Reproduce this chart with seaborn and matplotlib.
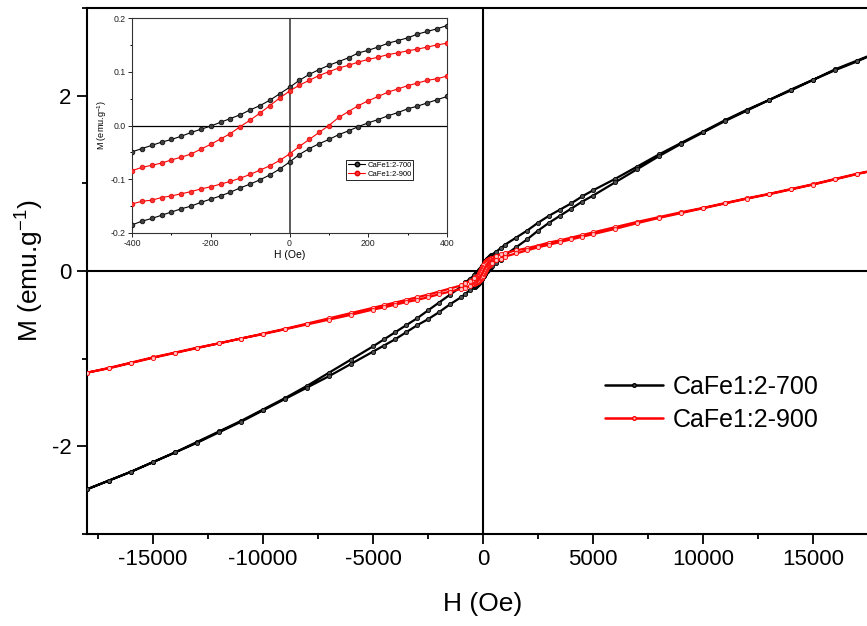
import matplotlib
matplotlib.use("Agg")
import matplotlib.pyplot as plt
from matplotlib.lines import Line2D
from matplotlib.ticker import MultipleLocator
import seaborn as sns
import pandas as pd

# ---------------- data ----------------
H_desc = [18000, 17000, 16000, 15000, 14000, 13000, 12000, 11000, 10000, 9000,
          8000, 7000, 6000, 5000, 4500, 4000, 3500, 3000, 2500, 2000,
          1500, 1000, 800, 600,
          400, 375, 350, 325, 300, 275, 250, 225, 200, 175, 150, 125, 100, 75, 50, 25,
          0, -25, -50, -75, -100, -125, -150, -175, -200, -225, -250, -275, -300,
          -325, -350, -375, -400,
          -600, -800, -1000, -1500, -2000, -2500, -3000, -3500, -4000, -4500,
          -5000, -6000, -7000, -8000, -9000, -10000, -11000, -12000, -13000,
          -14000, -15000, -16000, -17000, -18000]
H_asc = H_desc[::-1]

M700_desc = [2.50, 2.40, 2.30, 2.18, 2.07, 1.95, 1.84, 1.72, 1.59, 1.46,
             1.33, 1.19, 1.05, 0.92, 0.85, 0.77, 0.70, 0.63, 0.55, 0.46,
             0.38, 0.30, 0.26, 0.22,
             0.186, 0.180, 0.175, 0.170, 0.163, 0.158, 0.153, 0.146, 0.140, 0.135,
             0.126, 0.119, 0.112, 0.104, 0.095, 0.084, 0.071, 0.059, 0.047, 0.037,
             0.029, 0.020, 0.013, 0.006, -0.001, -0.007, -0.013, -0.020, -0.026,
             -0.031, -0.037, -0.043, -0.049,
             -0.09, -0.13, -0.18, -0.27, -0.36, -0.45, -0.54, -0.62, -0.70, -0.78,
             -0.86, -1.01, -1.16, -1.31, -1.45, -1.58, -1.71, -1.83, -1.95,
             -2.07, -2.18, -2.29, -2.39, -2.49]
M700_asc = [-2.49, -2.39, -2.29, -2.18, -2.07, -1.96, -1.84, -1.72, -1.59, -1.46,
            -1.33, -1.20, -1.06, -0.92, -0.85, -0.78, -0.70, -0.62, -0.55, -0.47,
            -0.38, -0.30, -0.26, -0.22,
            -0.185, -0.178, -0.173, -0.167, -0.161, -0.155, -0.150, -0.143, -0.137,
            -0.131, -0.124, -0.116, -0.109, -0.101, -0.092, -0.081, -0.068, -0.054,
            -0.043, -0.034, -0.026, -0.017, -0.010, -0.002, 0.005, 0.011, 0.018,
            0.024, 0.031, 0.036, 0.042, 0.048, 0.054,
            0.09, 0.13, 0.18, 0.27, 0.36, 0.46, 0.55, 0.63, 0.71, 0.79,
            0.86, 1.01, 1.16, 1.31, 1.45, 1.58, 1.71, 1.83, 1.95,
            2.06, 2.18, 2.29, 2.39, 2.50]

M900_desc = [1.16, 1.11, 1.05, 0.99, 0.935, 0.88, 0.83, 0.775, 0.72, 0.67,
             0.615, 0.56, 0.50, 0.44, 0.41, 0.38, 0.35, 0.325, 0.29, 0.26,
             0.235, 0.205, 0.19, 0.175,
             0.153, 0.150, 0.146, 0.142, 0.139, 0.135, 0.132, 0.127, 0.123, 0.118,
             0.112, 0.107, 0.100, 0.093, 0.084, 0.075, 0.064, 0.051, 0.037, 0.023,
             0.010, -0.002, -0.015, -0.025, -0.035, -0.044, -0.053, -0.059, -0.064,
             -0.070, -0.074, -0.078, -0.084,
             -0.115, -0.14, -0.165, -0.20, -0.235, -0.27, -0.30, -0.33, -0.36, -0.39,
             -0.42, -0.48, -0.54, -0.60, -0.66, -0.715, -0.77, -0.825, -0.875,
             -0.93, -0.985, -1.045, -1.105, -1.16]
M900_asc = [-1.16, -1.11, -1.05, -0.99, -0.935, -0.88, -0.825, -0.77, -0.72, -0.665,
            -0.61, -0.555, -0.50, -0.44, -0.415, -0.385, -0.355, -0.33, -0.30, -0.265,
            -0.235, -0.205, -0.19, -0.17,
            -0.146, -0.141, -0.139, -0.134, -0.131, -0.127, -0.123, -0.118, -0.114,
            -0.109, -0.104, -0.098, -0.091, -0.083, -0.075, -0.065, -0.053, -0.039,
            -0.026, -0.013, 0.000, 0.015, 0.026, 0.037, 0.046, 0.054, 0.062,
            0.068, 0.074, 0.079, 0.084, 0.087, 0.092,
            0.12, 0.14, 0.165, 0.20, 0.235, 0.27, 0.30, 0.33, 0.36, 0.39,
            0.42, 0.48, 0.545, 0.605, 0.66, 0.715, 0.77, 0.825, 0.875,
            0.93, 0.985, 1.045, 1.105, 1.16]

labels = ["CaFe1:2-700", "CaFe1:2-900"]
main_xticks = [-15000, -10000, -5000, 0, 5000, 10000, 15000]
main_yticks = [-2, 0, 2]
inset_xticks = [-400, -200, 0, 200, 400]
inset_yticks = [-0.2, -0.1, 0.0, 0.1, 0.2]

# ---------------- style ----------------
sns.set_style("ticks")
plt.rcParams["font.family"] = ["Liberation Sans", "DejaVu Sans"]
plt.rcParams["mathtext.default"] = "regular"
plt.rcParams["axes.unicode_minus"] = False
for k in ["text.color", "axes.labelcolor", "xtick.color", "ytick.color",
          "axes.edgecolor"]:
    plt.rcParams[k] = "black"

df700 = pd.DataFrame({"H": H_desc + H_asc, "M": M700_desc + M700_asc})
df900 = pd.DataFrame({"H": H_desc + H_asc, "M": M900_desc + M900_asc})

fig = plt.figure(figsize=(8.67, 6.26), dpi=100)
W, Hh = 867, 626
ax = fig.add_axes([87 / W, (Hh - 534) / Hh, 792 / W, 526 / Hh])

ax.axhline(0, color="black", lw=1.5, zorder=1)
ax.axvline(0, color="black", lw=1.5, zorder=1)

sns.lineplot(data=df700, x="H", y="M", sort=False, estimator=None, ax=ax,
             color="black", lw=1.6, marker="o", ms=3.0, mfc="#505050",
             mec="black", mew=0.6, zorder=3)
sns.lineplot(data=df900, x="H", y="M", sort=False, estimator=None, ax=ax,
             color="#ff0000", lw=1.6, marker="o", ms=3.0, mfc="#ffc0c0",
             mec="#ff0000", mew=0.6, zorder=4)

ax.set_xlim(-18000, 18000)
ax.set_ylim(-3, 3)
ax.set_xticks(main_xticks)
ax.set_xticklabels([str(v) for v in main_xticks])
ax.set_yticks(main_yticks)
ax.set_yticklabels([str(v) for v in main_yticks])
ax.xaxis.set_minor_locator(MultipleLocator(2500))
ax.yaxis.set_minor_locator(MultipleLocator(1))
ax.tick_params(which="major", direction="out", length=7, width=1.3,
               labelsize=16, pad=4, colors="black")
ax.tick_params(which="minor", direction="out", length=3.3, width=1.3,
               colors="black")
for s in ax.spines.values():
    s.set_linewidth(1.5)
    s.set_color("black")
ax.set_xlabel("H (Oe)", fontsize=19, labelpad=16, color="black")
ax.set_ylabel("M (emu.g$^{-1}$)", fontsize=19, labelpad=4, color="black")

handles = [Line2D([], [], color="black", lw=1.8, marker="o", ms=2.6,
                  mfc="#505050", mec="black"),
           Line2D([], [], color="#ff0000", lw=1.8, marker="o", ms=2.6,
                  mfc="#ffc0c0", mec="#ff0000")]
fig.legend(handles, labels, loc="upper left",
           bbox_to_anchor=(605 / W, 1 - 375 / Hh), frameon=False,
           fontsize=18, handlelength=2.3, handletextpad=0.4,
           labelspacing=0.35, borderpad=0, borderaxespad=0)

# ---------------- inset ----------------
axi = fig.add_axes([132 / W, (Hh - 233) / Hh, 315 / W, 215 / Hh])
axi.set_facecolor("white")
axi.axhline(0, color="black", lw=0.9, zorder=1)
axi.axvline(0, color="#303030", lw=1.1, zorder=1)
sns.lineplot(data=df700, x="H", y="M", sort=False, estimator=None, ax=axi,
             color="black", lw=0.8, marker="o", ms=3.4, mfc="#404040",
             mec="black", mew=0.5, zorder=3)
sns.lineplot(data=df900, x="H", y="M", sort=False, estimator=None, ax=axi,
             color="#ff0000", lw=0.8, marker="o", ms=3.4, mfc="#ff3030",
             mec="#e00000", mew=0.5, zorder=4)
axi.set_xlim(-400, 400)
axi.set_ylim(-0.2, 0.2)
axi.set_xticks(inset_xticks)
axi.set_xticklabels([str(v) for v in inset_xticks])
axi.set_yticks(inset_yticks)
axi.set_yticklabels(["%.1f" % v for v in inset_yticks])
axi.xaxis.set_minor_locator(MultipleLocator(100))
axi.yaxis.set_minor_locator(MultipleLocator(0.05))
axi.tick_params(which="major", direction="out", length=3, width=0.7,
                labelsize=6.3, pad=1.5, colors="#222222")
axi.tick_params(which="minor", direction="out", length=1.6, width=0.7)
for s in axi.spines.values():
    s.set_linewidth(0.8)
    s.set_color("#333333")
axi.set_xlabel("H (Oe)", fontsize=7.5, labelpad=1)
axi.set_ylabel("M (emu.g$^{-1}$)", fontsize=6.5, labelpad=1)
hi = [Line2D([], [], color="black", lw=0.8, marker="o", ms=3.2,
             mfc="#404040", mec="black"),
      Line2D([], [], color="#ff0000", lw=0.8, marker="o", ms=3.2,
             mfc="#ff3030", mec="#e00000")]
leg = axi.legend(hi, labels, loc="upper left", bbox_to_anchor=(0.68, 0.34),
                 fontsize=5.5, frameon=True, fancybox=False, edgecolor="black",
                 framealpha=1, handlelength=2.2, handletextpad=0.3,
                 labelspacing=0.15, borderpad=0.25, borderaxespad=0)
leg.get_frame().set_linewidth(0.6)

fig.savefig("out.png", dpi=100)
